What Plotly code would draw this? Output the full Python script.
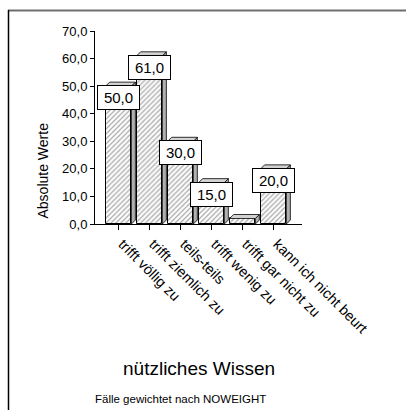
import plotly.graph_objects as go

# Categories, counts and the value labels printed above the bars
categories = ["trifft völlig zu", "trifft ziemlich zu", "teils-teils",
              "trifft wenig zu", "trifft gar nicht zu", "kann ich nicht beurt"]
values = [50.0, 61.0, 30.0, 15.0, 2.0, 20.0]
value_labels = ["50,0", "61,0", "30,0", "15,0", "", "20,0"]
y_ticks = [0, 10, 20, 30, 40, 50, 60, 70]
y_tick_labels = ["0,0", "10,0", "20,0", "30,0", "40,0", "50,0", "60,0", "70,0"]

W, H = 406, 410
ML, MR, MT, MB = 95, 104, 31, 186
PW, PH = W - ML - MR, H - MT - MB
X_RANGE = [-0.758, 5.92]
Y_RANGE = [0, 70]

def px_x(px):
    return (px - ML) / PW

def px_y(py):
    return (H - MB - py) / PH

# depth of the pseudo-3D extrusion, converted from pixels to data units
dx = 4 * (X_RANGE[1] - X_RANGE[0]) / PW
dy = 4 * (Y_RANGE[1] - Y_RANGE[0]) / PH
bar_w = 0.83

xs = list(range(len(categories)))

fig = go.Figure()

# side faces
sx, sy = [], []
for x, v in zip(xs, values):
    r = x + bar_w / 2
    sx += [r, r + dx, r + dx, r, r, None]
    sy += [0, dy, v + dy, v, 0, None]
fig.add_trace(go.Scatter(x=sx, y=sy, mode="lines", fill="toself",
                         fillcolor="#b0b0b0", line=dict(color="#000", width=0.8),
                         hoverinfo="skip", showlegend=False))

# top faces
tx, ty = [], []
for x, v in zip(xs, values):
    l, r = x - bar_w / 2, x + bar_w / 2
    tx += [l, l + dx, r + dx, r, l, None]
    ty += [v, v + dy, v + dy, v, v, None]
fig.add_trace(go.Scatter(x=tx, y=ty, mode="lines", fill="toself",
                         fillcolor="#d2d2d2", line=dict(color="#000", width=0.8),
                         hoverinfo="skip", showlegend=False))

# hatched front faces
fig.add_trace(go.Bar(
    x=xs, y=values, width=bar_w,
    marker=dict(color="white", line=dict(color="#000", width=1),
                pattern=dict(shape="/", fgcolor="#4a4a4a", bgcolor="white",
                             size=3.5, solidity=0.35)),
    hoverinfo="skip", showlegend=False,
))

# value label boxes
for x, v, lab in zip(xs, values, value_labels):
    if not lab:
        continue
    fig.add_annotation(x=x, y=v, xref="x", yref="y", text=lab, showarrow=False,
                       xanchor="center", yanchor="top", yshift=1,
                       width=41, height=23, bgcolor="white",
                       bordercolor="#000", borderwidth=1, borderpad=0,
                       font=dict(family="Liberation Sans, Arial", size=15, color="#000"))

# y axis title
fig.add_annotation(x=px_x(42.5), y=px_y(171), xref="paper", yref="paper",
                   text="Absolute Werte", textangle=-90, showarrow=False,
                   xanchor="center", yanchor="middle",
                   font=dict(family="Liberation Sans, Arial", size=14, color="#000"))

# chart title and footnote
fig.add_annotation(x=px_x(198.5), y=px_y(368), xref="paper", yref="paper",
                   text="nützliches Wissen", showarrow=False,
                   xanchor="center", yanchor="middle",
                   font=dict(family="Liberation Sans, Arial", size=19, color="#000"))
fig.add_annotation(x=px_x(180.5), y=px_y(399), xref="paper", yref="paper",
                   text="Fälle gewichtet nach NOWEIGHT", showarrow=False,
                   xanchor="center", yanchor="middle",
                   font=dict(family="Liberation Sans, Arial", size=11.5, color="#000"))

# outer frame (top and left edges)
fig.add_shape(type="line", xref="paper", yref="paper",
              x0=px_x(8), x1=px_x(406), y0=px_y(10.5), y1=px_y(10.5),
              line=dict(color="#6e6e6e", width=2))
fig.add_shape(type="line", xref="paper", yref="paper",
              x0=px_x(8.5), x1=px_x(8.5), y0=px_y(10), y1=px_y(410),
              line=dict(color="#000", width=1.5))

fig.update_xaxes(range=X_RANGE, tickmode="array", tickvals=xs, ticktext=categories,
                 tickangle=45, ticks="outside", ticklen=5, tickcolor="#000",
                 ticklabelshift=4,
                 showline=True, linecolor="#000", linewidth=1,
                 showgrid=False, zeroline=False,
                 tickfont=dict(family="Liberation Sans, Arial", size=14.5, color="#000"))
fig.update_yaxes(range=Y_RANGE, tickmode="array", tickvals=y_ticks, ticktext=y_tick_labels,
                 ticks="outside", ticklen=4, tickcolor="#000",
                 showline=True, linecolor="#000", linewidth=1,
                 showgrid=False, zeroline=False,
                 tickfont=dict(family="Liberation Sans, Arial", size=13, color="#000"))

fig.update_layout(width=W, height=H, margin=dict(l=ML, r=MR, t=MT, b=MB),
                  paper_bgcolor="white", plot_bgcolor="white", bargap=0,
                  showlegend=False)

fig.write_html("out.html", config={"displayModeBar": False})
